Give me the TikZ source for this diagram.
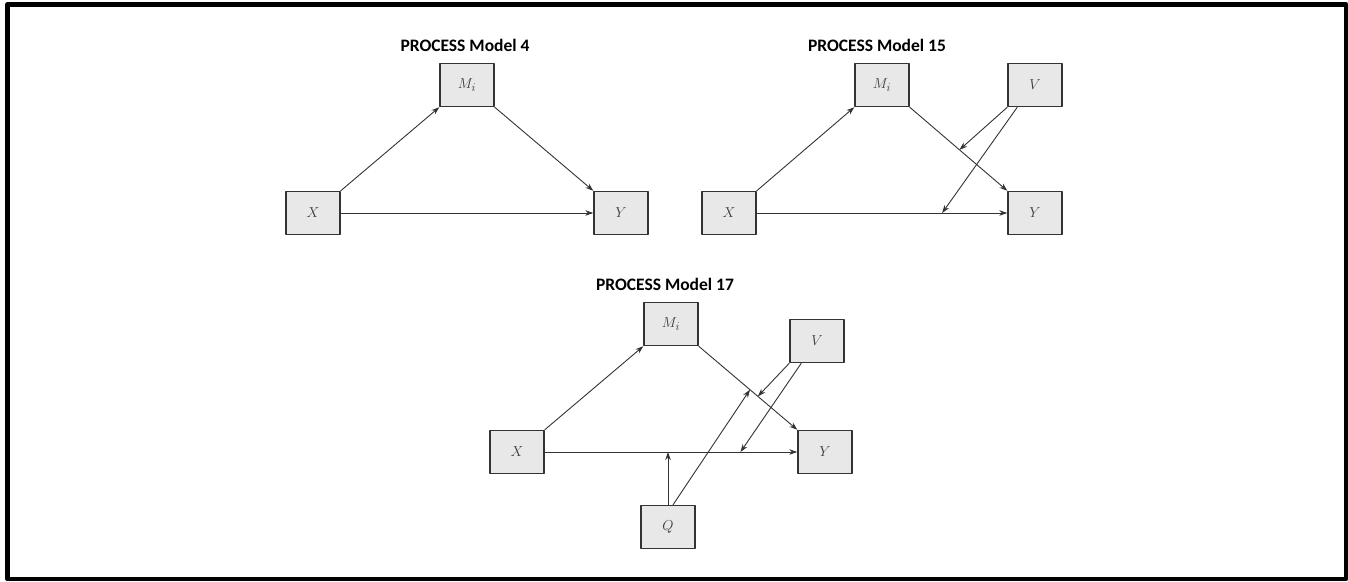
\documentclass[tikz,border=0pt]{standalone}
\usepackage{fontspec}
\newfontfamily\titlefont{Carlito}
\usetikzlibrary{arrows.meta}
% larger subscripts in the boxes
\DeclareMathSizes{15}{15}{12}{10}

\definecolor{boxfill}{HTML}{E8E8E8}
\definecolor{boxline}{HTML}{333333}
\definecolor{vartext}{HTML}{3A3A3A}

\begin{document}
\begin{tikzpicture}[line join=round, x=1pt, y=-1pt]
    \tikzset{
        var/.style={draw=boxline, fill=boxfill, line width=1.4pt, minimum width=54pt,
            minimum height=43pt, inner sep=0pt, text=vartext, font=\fontsize{15}{17}\selectfont},
        effect/.style={draw=boxline, line width=0.9pt, -{Stealth[length=8pt, width=5.5pt]}},
        heading/.style={font=\titlefont\bfseries\fontsize{17.5}{20}\selectfont},
    }
    \useasboundingbox (0,0) rectangle (1348,581);
    \draw[line width=4.5pt] (7.5,4.3) rectangle (1346,579);

    % model 4
    \node[heading] (t4) at (465,45) {PROCESS Model 4};
    \node[var] (m4) at (467,85) {$M_i$};
    \node[var] (x4) at (313,213) {$X$};
    \node[var] (y4) at (621,213) {$Y$};
    \draw[effect] (x4.north east) -- (m4.south west);
    \draw[effect] (m4.south east) -- (y4.north west);
    \draw[effect] (x4) -- (y4);

    % model 15
    \node[heading] (t15) at (877,45) {PROCESS Model 15};
    \node[var] (m15) at (882,85) {$M_i$};
    \node[var] (v15) at (1035,85) {$V$};
    \node[var] (x15) at (729,213) {$X$};
    \node[var] (y15) at (1035,213) {$Y$};
    \draw[effect] (x15.north east) -- (m15.south west);
    \draw[effect] (m15.south east) -- coordinate[pos=0.51] (my15) (y15.north west);
    \draw[effect] (x15) -- coordinate[pos=0.74] (xy15) (y15);
    \draw[effect] (v15.south west) -- (my15);
    \draw[effect] ([xshift=10pt]v15.south west) -- (xy15);

    % model 17
    \node[heading] (t17) at (665,284) {PROCESS Model 17};
    \node[var] (m17) at (671,324) {$M_i$};
    \node[var] (v17) at (817,341) {$V$};
    \node[var] (x17) at (517,452) {$X$};
    \node[var] (y17) at (825,452) {$Y$};
    \node[var] (q17) at (668,527) {$Q$};
    \draw[effect] (x17.north east) -- (m17.south west);
    \path (m17.south east) -- coordinate[pos=0.52] (mq17) coordinate[pos=0.6] (mv17) (y17.north west);
    \draw[effect] (m17.south east) -- (y17.north west);
    \path (x17) -- coordinate[pos=0.775] (xv17) (y17);
    \draw[effect] (x17) -- (y17);
    \draw[effect] (v17.south west) -- (mv17);
    \draw[effect] ([xshift=12pt]v17.south west) -- (xv17);
    \draw[effect] (q17) -- (q17 |- x17);
    \draw[effect] ([xshift=5pt]q17.north) -- (mq17);
\end{tikzpicture}
\end{document}
